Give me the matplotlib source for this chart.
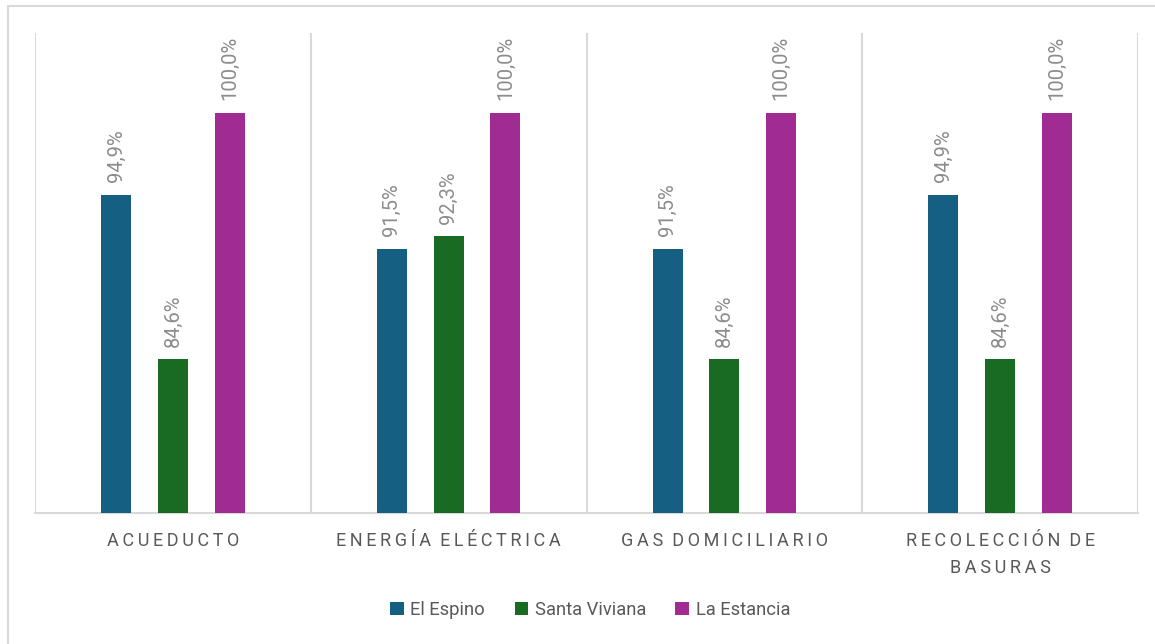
import matplotlib.pyplot as plt
import numpy as np
from matplotlib.patches import Rectangle

plt.rcParams['font.family'] = ['Roboto', 'DejaVu Sans']

## datos
categorias = ["ACUEDUCTO", "ENERGÍA ELÉCTRICA", "GAS DOMICILIARIO", "RECOLECCIÓN DE\nBASURAS"]
series = ["El Espino", "Santa Viviana", "La Estancia"]
el_espino = [94.9, 91.5, 91.5, 94.9]
santa_viviana = [84.6, 92.3, 84.6, 84.6]
la_estancia = [100.0, 100.0, 100.0, 100.0]

colores = ["#156082", "#196B24", "#A02B93"]
gris = "#595959"


def espaciar(texto):
    # simula el espaciado de letras de Excel
    lineas = []
    for linea in texto.split("\n"):
        lineas.append("\u2009".join(linea).replace("\u2009 \u2009", "  "))
    return "\n".join(lineas)


fig = plt.figure(figsize=(11.55, 6.44), dpi=100)
ax = fig.add_axes([35 / 1155, 1 - 513 / 644, (1138 - 35) / 1155, (513 - 33) / 644])

x = np.arange(len(categorias))
ancho = 0.109
sep = 0.206

for k, (nombre, valores) in enumerate(zip(series, [el_espino, santa_viviana, la_estancia])):
    pos = x + (k - 1) * sep
    barras = ax.bar(pos, valores, width=ancho, bottom=0, color=colores[k], label=nombre, zorder=3)
    for b, v in zip(barras, valores):
        ax.annotate(f"{v:.1f}%".replace(".", ","),
                    (b.get_x() + b.get_width() / 2, v),
                    xytext=(0, 9), textcoords="offset points",
                    rotation=90, ha="center", va="bottom",
                    fontsize=14.5, color="#8c8c8c")

ax.set_ylim(75, 105)
ax.set_xlim(-0.5, len(categorias) - 0.5)
ax.set_yticks([])
ax.set_xticks(x)
ax.set_xticklabels([espaciar(c) for c in categorias], fontsize=13, color=gris, linespacing=1.6)
ax.tick_params(axis="x", length=0, pad=14)

for s in ["top", "right", "left"]:
    ax.spines[s].set_visible(False)
ax.spines["bottom"].set_color("#d9d9d9")
ax.spines["bottom"].set_linewidth(1.5)

for xv in np.arange(-0.5, len(categorias), 1.0):
    ax.axvline(xv, color="#d9d9d9", linewidth=1.5, zorder=1)

ax.legend(loc="center", bbox_to_anchor=(0.511, 0.053), bbox_transform=fig.transFigure,
          ncol=3, frameon=False, fontsize=13.2, handlelength=0.75, handleheight=0.75,
          handletextpad=0.35, columnspacing=1.6, labelcolor=gris)

## borde del area del grafico
fig.add_artist(Rectangle((8 / 1155, -0.1), 1.1, 1.1 - 6 / 644,
                         transform=fig.transFigure, fill=False,
                         edgecolor="#d9d9d9", linewidth=1.5))

fig.savefig("out.png", dpi=100)
